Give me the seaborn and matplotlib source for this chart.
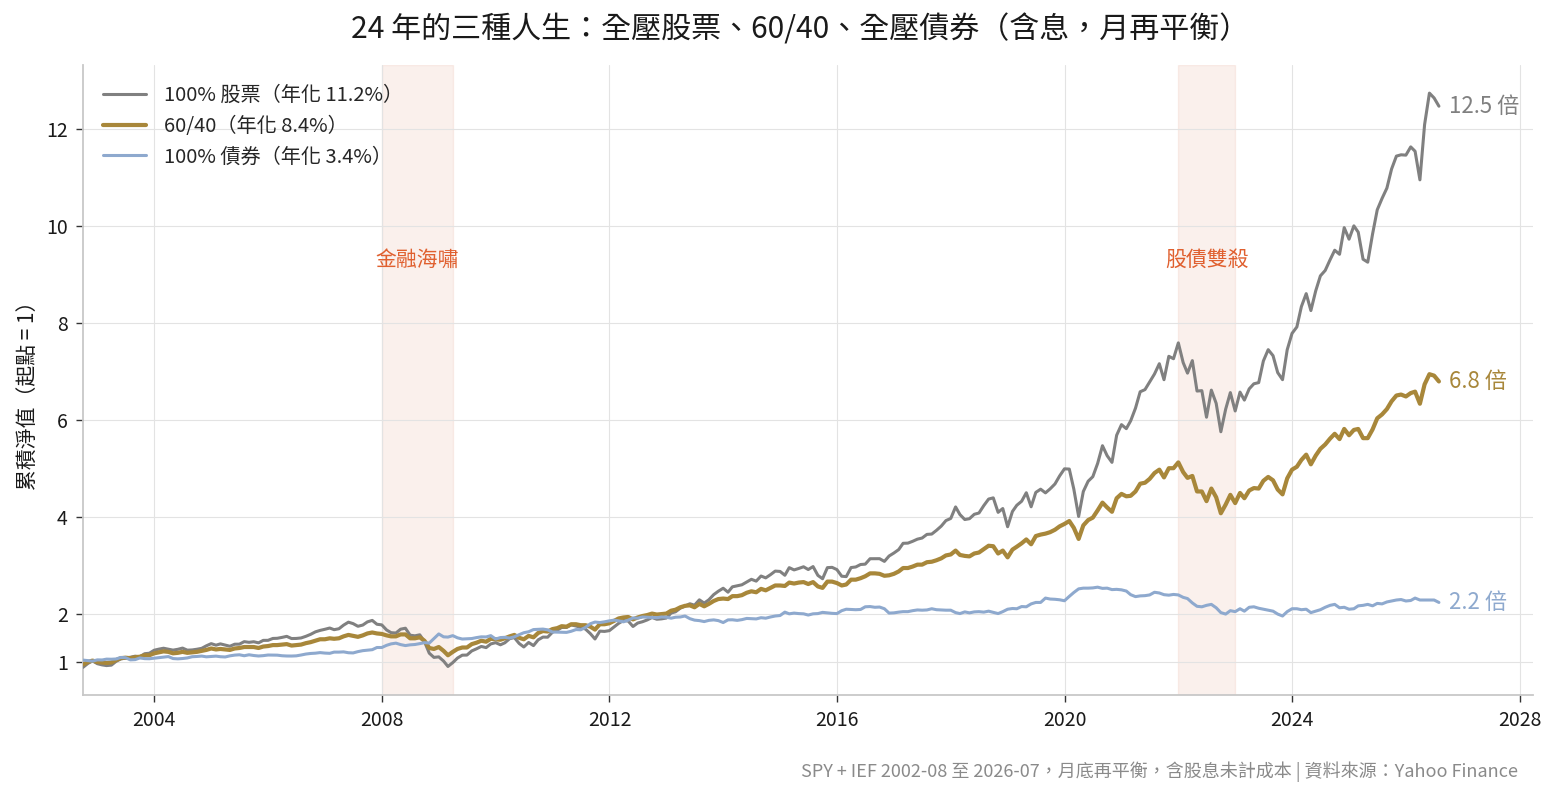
import matplotlib
matplotlib.use("Agg")
import matplotlib.pyplot as plt
import seaborn as sns
import pandas as pd

# ---------------- data ----------------
first_month_end = "2002-09-30"
n_months = 287

stock = [0.891,0.970,1.027,0.966,
0.941,0.927,0.936,1.013,1.066,1.080,1.099,1.121,1.109,1.172,1.182,1.244,
1.267,1.285,1.266,1.246,1.263,1.288,1.245,1.250,1.264,1.283,1.335,1.380,
1.348,1.375,1.351,1.326,1.368,1.369,1.421,1.407,1.419,1.396,1.447,1.448,
1.487,1.490,1.509,1.530,1.485,1.487,1.497,1.531,1.571,1.623,1.653,1.676,
1.702,1.668,1.687,1.762,1.823,1.793,1.738,1.763,1.829,1.859,1.780,1.767,
1.662,1.606,1.599,1.678,1.698,1.554,1.541,1.562,1.423,1.183,1.096,1.107,
1.020,0.909,0.989,1.082,1.142,1.144,1.230,1.274,1.322,1.298,1.374,1.400,
1.356,1.397,1.482,1.505,1.384,1.311,1.404,1.339,1.458,1.515,1.513,1.615,
1.658,1.714,1.714,1.765,1.744,1.715,1.680,1.587,1.476,1.638,1.632,1.648,
1.726,1.799,1.858,1.847,1.734,1.805,1.832,1.870,1.919,1.883,1.891,1.908,
2.012,2.037,2.113,2.155,2.203,2.173,2.284,2.216,2.285,2.391,2.462,2.523,
2.442,2.552,2.574,2.594,2.652,2.707,2.670,2.775,2.737,2.804,2.877,2.870,
2.791,2.948,2.901,2.931,2.966,2.909,2.970,2.788,2.719,2.948,2.954,2.908,
2.771,2.763,2.950,2.962,3.013,3.020,3.132,3.132,3.133,3.077,3.188,3.250,
3.321,3.450,3.454,3.491,3.536,3.559,3.634,3.641,3.717,3.805,3.919,3.963,
4.201,4.043,3.941,3.958,4.049,4.075,4.228,4.363,4.388,4.089,4.168,3.792,
4.107,4.235,4.318,4.494,4.204,4.501,4.567,4.491,4.574,4.675,4.841,4.987,
4.982,4.570,4.004,4.519,4.731,4.825,5.099,5.464,5.258,5.120,5.680,5.899,
5.816,5.977,6.239,6.577,6.622,6.780,6.944,7.156,6.826,7.309,7.259,7.586,
7.180,6.962,7.220,6.592,6.600,6.052,6.611,6.338,5.752,6.219,6.560,6.181,
6.570,6.405,6.637,6.742,6.766,7.213,7.446,7.322,6.973,6.827,7.444,7.782,
7.915,8.334,8.602,8.253,8.659,8.969,9.081,9.299,9.498,9.414,9.964,9.726,
10.001,9.870,9.312,9.251,9.832,10.331,10.567,10.780,11.173,11.440,11.467,11.460,
11.630,11.540,10.950,12.090,12.740,12.640,12.470]

balanced = [0.95,1.00,1.03,1.00,
0.99,0.98,0.99,1.04,1.08,1.09,1.08,1.10,1.11,1.14,1.14,1.18,
1.20,1.22,1.21,1.18,1.19,1.21,1.19,1.20,1.21,1.23,1.25,1.28,
1.26,1.27,1.26,1.25,1.28,1.29,1.31,1.31,1.31,1.29,1.32,1.33,
1.35,1.35,1.36,1.37,1.34,1.35,1.36,1.39,1.41,1.44,1.47,1.47,
1.49,1.48,1.49,1.53,1.56,1.54,1.52,1.55,1.59,1.61,1.59,1.58,
1.55,1.53,1.53,1.57,1.57,1.49,1.49,1.51,1.44,1.29,1.27,1.31,
1.23,1.14,1.21,1.27,1.30,1.30,1.37,1.40,1.44,1.42,1.48,1.47,
1.46,1.49,1.53,1.56,1.50,1.47,1.54,1.51,1.60,1.64,1.63,1.68,
1.70,1.74,1.73,1.78,1.78,1.76,1.76,1.73,1.67,1.78,1.78,1.80,
1.85,1.90,1.92,1.93,1.88,1.92,1.95,1.97,2.00,1.98,1.99,2.00,
2.06,2.08,2.13,2.16,2.17,2.13,2.20,2.15,2.20,2.26,2.30,2.31,
2.30,2.36,2.36,2.38,2.43,2.46,2.44,2.51,2.48,2.53,2.58,2.58,
2.57,2.64,2.62,2.64,2.65,2.61,2.65,2.56,2.53,2.66,2.66,2.63,
2.58,2.60,2.70,2.70,2.73,2.77,2.83,2.83,2.82,2.78,2.79,2.82,
2.87,2.94,2.94,2.97,3.01,3.01,3.06,3.07,3.10,3.14,3.20,3.22,
3.30,3.21,3.19,3.18,3.24,3.26,3.33,3.40,3.39,3.24,3.30,3.16,
3.32,3.38,3.45,3.53,3.43,3.60,3.63,3.65,3.68,3.73,3.80,3.85,
3.91,3.77,3.54,3.82,3.93,3.98,4.13,4.29,4.19,4.10,4.38,4.47,
4.42,4.43,4.52,4.68,4.70,4.78,4.90,4.97,4.81,5.00,5.00,5.12,
4.92,4.80,4.84,4.52,4.52,4.32,4.58,4.40,4.07,4.25,4.45,4.28,
4.49,4.38,4.54,4.59,4.58,4.74,4.82,4.75,4.56,4.46,4.79,4.97,
5.03,5.17,5.28,5.08,5.26,5.40,5.49,5.61,5.71,5.60,5.81,5.68,
5.79,5.81,5.62,5.62,5.80,6.03,6.11,6.22,6.38,6.50,6.52,6.48,
6.55,6.58,6.33,6.73,6.94,6.91,6.79]

bond = [1.040,1.030,1.018,1.045,
1.043,1.060,1.058,1.063,1.095,1.090,1.045,1.050,1.085,1.070,1.068,1.080,
1.090,1.105,1.113,1.072,1.066,1.073,1.085,1.110,1.115,1.123,1.108,1.115,
1.122,1.110,1.105,1.128,1.143,1.150,1.130,1.150,1.135,1.125,1.132,1.145,
1.143,1.142,1.130,1.125,1.124,1.128,1.145,1.165,1.177,1.183,1.195,1.185,
1.180,1.205,1.205,1.210,1.192,1.188,1.215,1.235,1.245,1.255,1.300,1.300,
1.345,1.375,1.390,1.360,1.340,1.355,1.362,1.380,1.400,1.392,1.485,1.580,
1.520,1.515,1.545,1.500,1.475,1.480,1.485,1.505,1.520,1.518,1.545,1.475,
1.505,1.510,1.495,1.520,1.565,1.605,1.625,1.670,1.675,1.680,1.665,1.620,
1.618,1.615,1.612,1.635,1.670,1.665,1.715,1.790,1.825,1.815,1.830,1.850,
1.865,1.850,1.830,1.865,1.910,1.905,1.930,1.925,1.920,1.915,1.930,1.925,
1.905,1.925,1.930,1.950,1.895,1.865,1.855,1.835,1.860,1.870,1.855,1.815,
1.870,1.872,1.860,1.875,1.900,1.895,1.890,1.915,1.905,1.930,1.950,1.960,
2.030,1.995,2.010,2.000,1.995,1.970,1.995,2.000,2.025,2.015,2.005,2.000,
2.060,2.090,2.085,2.080,2.085,2.140,2.145,2.130,2.135,2.100,2.010,2.015,
2.030,2.040,2.040,2.060,2.075,2.070,2.075,2.100,2.080,2.075,2.070,2.070,
2.020,2.000,2.035,2.015,2.035,2.040,2.030,2.050,2.025,2.000,2.040,2.090,
2.105,2.100,2.145,2.140,2.200,2.230,2.230,2.320,2.300,2.295,2.285,2.265,
2.355,2.435,2.510,2.525,2.525,2.530,2.545,2.520,2.525,2.495,2.500,2.490,
2.465,2.390,2.350,2.365,2.370,2.385,2.440,2.425,2.390,2.380,2.395,2.385,
2.335,2.310,2.220,2.150,2.140,2.170,2.190,2.120,2.020,1.990,2.060,2.040,
2.100,2.050,2.130,2.140,2.110,2.090,2.070,2.050,1.990,1.950,2.040,2.100,
2.100,2.080,2.090,2.020,2.050,2.080,2.130,2.170,2.190,2.120,2.130,2.090,
2.100,2.160,2.170,2.190,2.160,2.210,2.200,2.240,2.260,2.280,2.290,2.260,
2.270,2.320,2.280,2.280,2.280,2.280,2.230]

series_names = ["100% 股票（年化 11.2%）", "60/40（年化 8.4%）", "100% 債券（年化 3.4%）"]
end_labels = ["12.5 倍", "6.8 倍", "2.2 倍"]
crises = [("2008-01-01", "2009-03-31", "金融海嘯"), ("2022-01-01", "2022-12-31", "股債雙殺")]
crisis_label_value = 9.3
y_ticks = [1, 2, 4, 6, 8, 10, 12]
x_tick_years = [2004, 2008, 2012, 2016, 2020, 2024, 2028]

title = "24 年的三種人生：全壓股票、60/40、全壓債券（含息，月再平衡）"
y_label = "累積淨值（起點 = 1）"
footnote = "SPY + IEF 2002-08 至 2026-07，月底再平衡，含股息未計成本 | 資料來源：Yahoo Finance"

# ---------------- style ----------------
colors = ["#808080", "#A8873A", "#8EA9CE"]
widths = [2.2, 3.0, 2.2]

sns.set_theme(style="whitegrid")
plt.rcParams["font.family"] = ["Noto Sans CJK TC", "DejaVu Sans"]
plt.rcParams["axes.unicode_minus"] = False

dates = pd.date_range(first_month_end, periods=n_months, freq="ME")
df = pd.DataFrame({"date": dates, "stock": stock, "balanced": balanced, "bond": bond})

fig = plt.figure(figsize=(15.58, 7.95), dpi=100)
ax = fig.add_axes([83/1558, 1-695/795, (1533-83)/1558, (695-65)/795])

# crisis shading
for start, end, name in crises:
    ax.axvspan(pd.Timestamp(start), pd.Timestamp(end), facecolor="#E8AE98", alpha=0.18,
               edgecolor="#E8AE98", lw=1.0, zorder=0)
    mid = pd.Timestamp(start) + (pd.Timestamp(end) - pd.Timestamp(start)) / 2
    ax.text(mid, crisis_label_value, name, color="#E0602F", fontsize=15,
            ha="center", va="center")

for col, name, c, w in zip(["stock", "balanced", "bond"], series_names, colors, widths):
    sns.lineplot(data=df, x="date", y=col, ax=ax, color=c, lw=w, label=name, zorder=3)

# end labels
for col, lab, c in zip(["stock", "balanced", "bond"], end_labels, colors):
    ax.annotate(lab, xy=(df["date"].iloc[-1], df[col].iloc[-1]), xytext=(7, 0),
                textcoords="offset points", color=c, fontsize=16, ha="left", va="center")

ax.set_xlim(pd.Timestamp(first_month_end), pd.Timestamp("2028-03-26"))
ax.set_ylim(0.32, 13.32)
ax.set_yticks(y_ticks)
ax.set_yticklabels([str(v) for v in y_ticks])
ax.set_xticks([pd.Timestamp(f"{y}-01-01") for y in x_tick_years])
ax.set_xticklabels([str(y) for y in x_tick_years])
ax.set_xlabel("")
ax.set_ylabel("")

ax.grid(True, color="#e3e3e3", lw=0.8)
for s in ["top", "right"]:
    ax.spines[s].set_visible(False)
for s in ["left", "bottom"]:
    ax.spines[s].set_color("#c8c8c8")
    ax.spines[s].set_linewidth(1.3)
ax.tick_params(axis="both", which="major", length=5, width=1.0, color="#333333",
               labelsize=14, labelcolor="#1a1a1a", bottom=True, left=True, pad=6)

leg = ax.legend(loc="upper left", frameon=False, fontsize=14.5, handlelength=2.15,
                handletextpad=0.85, labelspacing=0.48, borderaxespad=0.6)

fig.text(28/1558, 1-390/795, y_label, rotation=90, fontsize=15, ha="center", va="center",
         color="#1a1a1a")
fig.text(800/1558, 1-30/795, title, fontsize=21.6, ha="center", va="center", color="#1a1a1a")
fig.text(1518/1558, 1-772/795, footnote, fontsize=13, ha="right", va="center", color="#8a8a8a")

fig.savefig("out.png", dpi=100)
